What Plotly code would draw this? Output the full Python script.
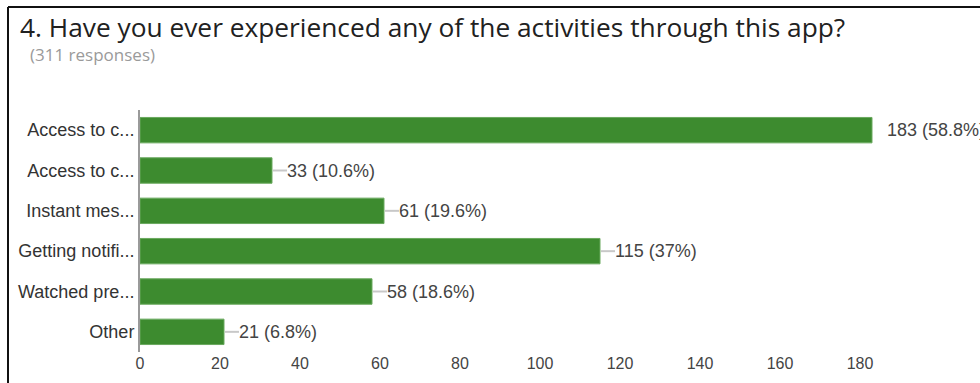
import plotly.graph_objects as go

# Survey question 4 – responses per activity
categories = [
    "Access to c...",
    "Access to c...",
    "Instant mes...",
    "Getting notifi...",
    "Watched pre...",
    "Other",
]
counts = [183, 33, 61, 115, 58, 21]
percent_labels = ["58.8%", "10.6%", "19.6%", "37%", "18.6%", "6.8%"]
x_ticks = [0, 20, 40, 60, 80, 100, 120, 140, 160, 180]

title_text = "4. Have you ever experienced any of the activities through this app?"
subtitle_text = "(311 responses)"

W, H = 980, 383
PL, PR, PT, PB = 140, 980, 110, 352
FONT = "Liberation Sans, Arial, sans-serif"
HEAD_FONT = "Open Sans, Liberation Sans, sans-serif"


def px_x(px):
    return (px - PL) / (PR - PL)


def px_y(py):
    return (PB - py) / (PB - PT)


# positions 0..n-1 keep the two identical labels on separate rows
rows = list(range(len(categories)))

fig = go.Figure(
    go.Bar(
        y=rows,
        x=counts,
        orientation="h",
        width=0.63,
        marker=dict(color="#3d8b2f", line=dict(color="#6aa95e", width=1)),
        hoverinfo="skip",
    )
)

annotations = []
shapes = []
for row, val, pct in zip(rows, counts, percent_labels):
    if val < max(counts):
        shapes.append(dict(
            type="line", xref="x", yref="y", xsizemode="pixel", xanchor=val,
            x0=1, x1=15, y0=row, y1=row,
            line=dict(color="#c8c8c8", width=2),
        ))
    annotations.append(dict(
        xref="x", yref="y", x=val, y=row, xshift=13,
        xanchor="left", yanchor="middle", showarrow=False,
        text=f"{val} ({pct})",
        font=dict(family=FONT, size=18, color="#444444"),
    ))

annotations.append(dict(
    xref="paper", yref="paper", x=px_x(18), y=px_y(27),
    xanchor="left", yanchor="middle", showarrow=False,
    text=title_text, font=dict(family=HEAD_FONT, size=26.3, color="#212121"),
))
annotations.append(dict(
    xref="paper", yref="paper", x=px_x(28), y=px_y(54),
    xanchor="left", yanchor="middle", showarrow=False,
    text=subtitle_text, font=dict(family=HEAD_FONT, size=17, color="#9a9a9a"),
))

# frame lines along the top and left edges
shapes.append(dict(type="line", xref="paper", yref="paper",
                   x0=px_x(8), x1=px_x(W + 5), y0=px_y(7), y1=px_y(7),
                   line=dict(color="#111111", width=2)))
shapes.append(dict(type="line", xref="paper", yref="paper",
                   x0=px_x(8), x1=px_x(8), y0=px_y(7), y1=px_y(H + 5),
                   line=dict(color="#111111", width=2)))

fig.update_layout(
    width=W, height=H,
    margin=dict(l=PL, r=W - PR, t=PT, b=H - PB, pad=0),
    paper_bgcolor="white", plot_bgcolor="white",
    showlegend=False,
    annotations=annotations,
    shapes=shapes,
    xaxis=dict(
        range=[0, 210], tickvals=x_ticks, showgrid=False, zeroline=False,
        showline=False, ticks="", fixedrange=True,
        tickfont=dict(family=FONT, size=16, color="#444444"),
    ),
    yaxis=dict(
        range=[len(rows) - 0.5, -0.5], tickvals=rows, ticktext=categories,
        showgrid=False, zeroline=False,
        showline=True, linecolor="#9a9a9a", linewidth=2, ticks="",
        ticklabelstandoff=0,
        tickfont=dict(family=FONT, size=18, color="#333333"),
    ),
)

fig.write_html("out.html")
